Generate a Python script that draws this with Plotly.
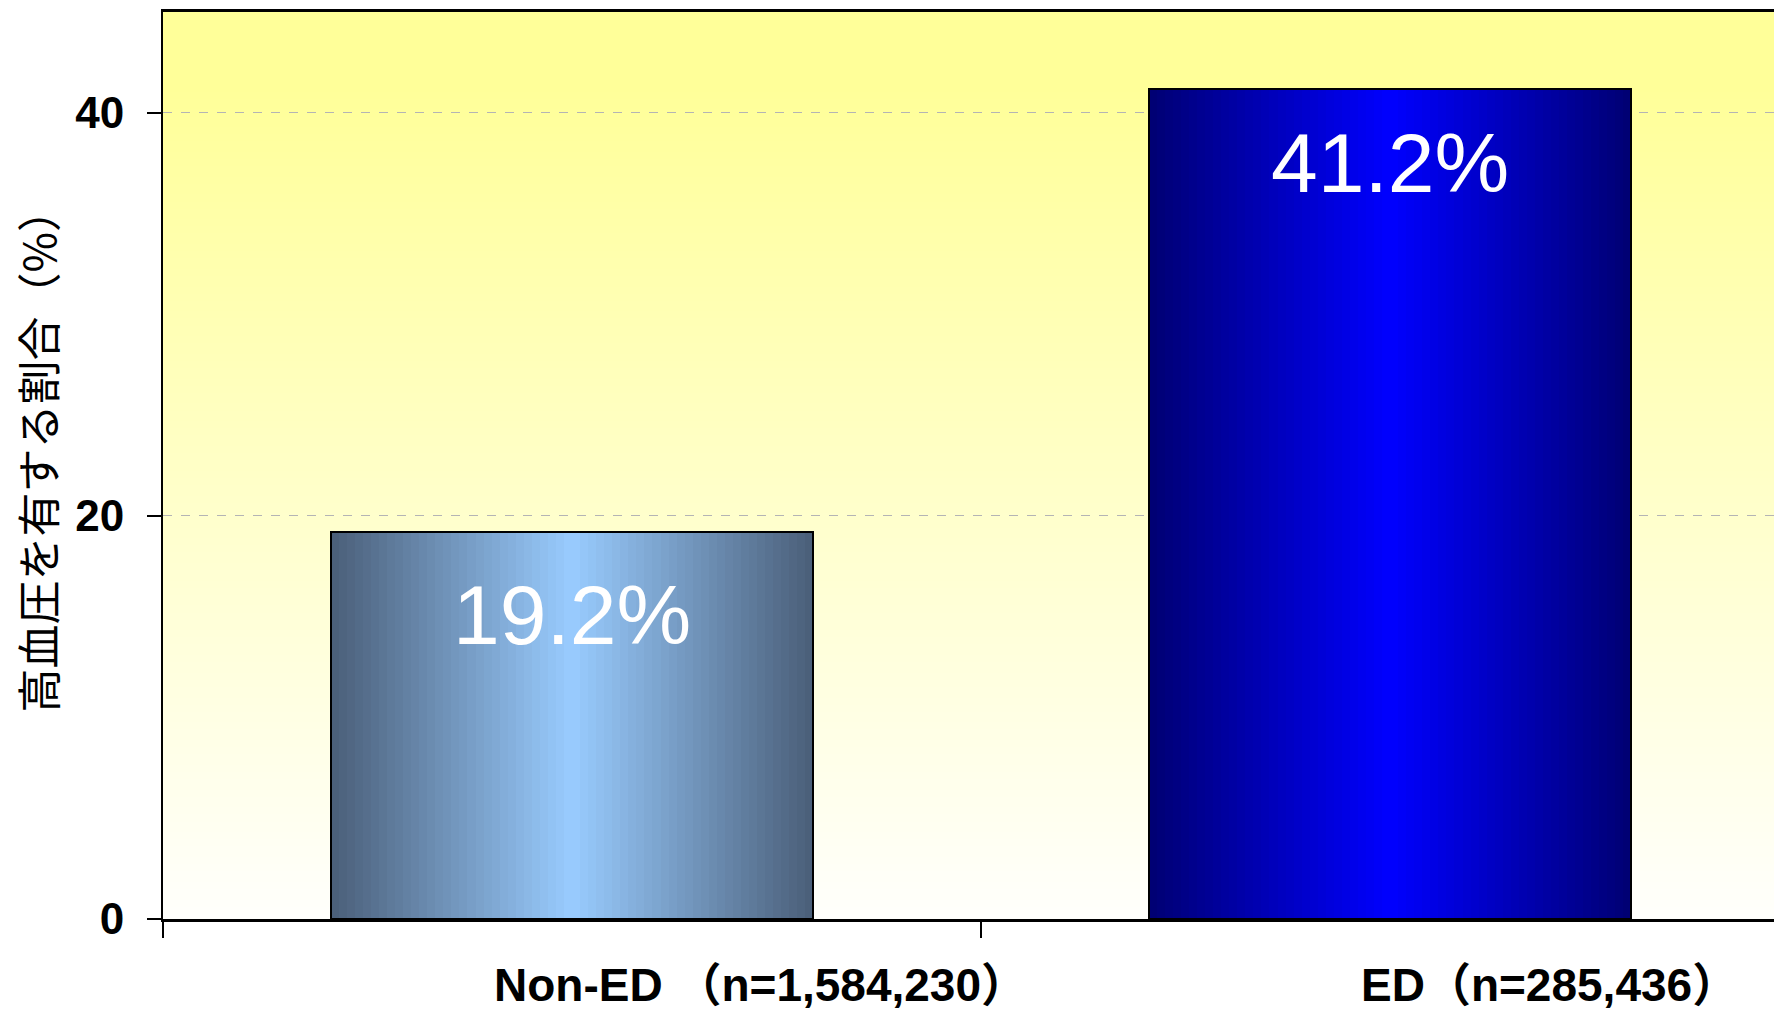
import base64
import struct
import zlib

import plotly.graph_objects as go

# ---------------- data ----------------
categories = ["Non-ED", "ED"]
category_labels = ["Non-ED （n=1,584,230）", "ED（n=285,436）"]
values = [19.2, 41.2]
value_labels = ["19.2%", "41.2%"]
y_ticks = [0, 20, 40]
y_title = "高血圧を有する割合（%）"

# ---------------- styling helpers ----------------
edge_colors = [(0x4A, 0x5E, 0x78), (0x00, 0x00, 0x72)]
center_colors = [(0x99, 0xCC, 0xFF), (0x00, 0x00, 0xFF)]
BAR_W = 0.59
N_SLICES = 60


def mix(c1, c2, t):
    return "rgb(%d,%d,%d)" % tuple(round(a + (b - a) * t) for a, b in zip(c1, c2))


def gradient_png(top, bottom, h=256, plateau=0.08):
    rows = b""
    for i in range(h):
        f = i / (h - 1)
        t = 0.0 if f < plateau else (f - plateau) / (1 - plateau)
        px = bytes(round(a + (b - a) * t) for a, b in zip(top, bottom))
        rows += b"\x00" + px

    def chunk(tag, data):
        c = struct.pack(">I", len(data)) + tag + data
        return c + struct.pack(">I", zlib.crc32(tag + data) & 0xFFFFFFFF)

    png = b"\x89PNG\r\n\x1a\n"
    png += chunk(b"IHDR", struct.pack(">IIBBBBB", 1, h, 8, 2, 0, 0, 0))
    png += chunk(b"IDAT", zlib.compress(rows, 9))
    png += chunk(b"IEND", b"")
    return "data:image/png;base64," + base64.b64encode(png).decode()


fig = go.Figure()

# gradient slices of the bars
w = BAR_W / N_SLICES
for k in range(N_SLICES):
    pos = (k + 0.5) / N_SLICES
    t = 1 - abs(pos - 0.5) * 2  # 0 at edges, 1 at center
    cols = [mix(edge_colors[i], center_colors[i], t) for i in range(len(categories))]
    off = -BAR_W / 2 + k * w
    sw = min(w * 1.6, BAR_W / 2 - off)
    fig.add_trace(go.Bar(
        x=categories, y=values,
        width=[sw] * len(categories),
        offset=[off] * len(categories),
        marker=dict(color=cols, line=dict(width=0)),
        showlegend=False, hoverinfo="skip",
    ))

# outline of bars
fig.add_trace(go.Bar(
    x=categories, y=values, width=[BAR_W] * len(categories),
    offset=[-BAR_W / 2] * len(categories),
    marker=dict(color="rgba(0,0,0,0)", line=dict(color="black", width=2)),
    showlegend=False, hoverinfo="skip",
))

# value labels inside bars
label_shift = [-83, -74]
for i, (c, v, lab) in enumerate(zip(categories, values, value_labels)):
    fig.add_annotation(
        x=c, y=v, xref="x", yref="y", text=lab, showarrow=False,
        yanchor="middle", yshift=label_shift[i],
        font=dict(family="Liberation Sans, Arial, sans-serif", size=84, color="white"),
    )

# category labels
cat_shift = [188, 159]
for i, (c, lab) in enumerate(zip(categories, category_labels)):
    fig.add_annotation(
        x=c, y=0, xref="x", yref="paper", text="<b>%s</b>" % lab, showarrow=False,
        yanchor="middle", yshift=-66, xshift=cat_shift[i],
        font=dict(family="Liberation Sans, Arial, Noto Sans CJK JP, sans-serif", size=46, color="black"),
    )

# y-axis title (rotated)
fig.add_annotation(
    x=0, y=0.5, xref="paper", yref="paper", text=y_title, showarrow=False,
    textangle=-90, xanchor="center", yanchor="middle", xshift=-127, yshift=15,
    font=dict(family="Noto Sans CJK JP, sans-serif", size=44, color="black"),
)

fig.add_layout_image(
    source=gradient_png((0xFF, 0xFF, 0x99), (0xFF, 0xFF, 0xFC)),
    xref="paper", yref="paper", x=0, y=1, sizex=1, sizey=1,
    xanchor="left", yanchor="top", sizing="stretch", layer="below",
)

fig.update_layout(
    width=1774, height=1001,
    margin=dict(l=155, r=0, t=4, b=90),
    paper_bgcolor="white", plot_bgcolor="rgba(0,0,0,0)",
    barmode="overlay", bargap=0,
    showlegend=False,
    xaxis=dict(
        type="category", range=[-0.5, 1.479],
        showline=True, linecolor="black", linewidth=3, mirror=True,
        ticks="outside", tickson="boundaries", ticklen=16, tickwidth=2, tickcolor="black",
        showticklabels=False, showgrid=False, zeroline=False,
    ),
    yaxis=dict(
        range=[0, 45], tickvals=y_ticks, ticktext=[str(t) for t in y_ticks],
        showline=True, linecolor="black", linewidth=2,
        ticks="outside", ticklen=14, tickwidth=2, tickcolor="black",
        ticklabelstandoff=14,
        tickfont=dict(family="Liberation Sans, Arial, sans-serif", size=44, color="black", weight="bold"),
        showgrid=True, gridcolor="#b4b4b4", griddash="dash", gridwidth=1,
        zeroline=False,
    ),
)

fig.write_html("out.html")
